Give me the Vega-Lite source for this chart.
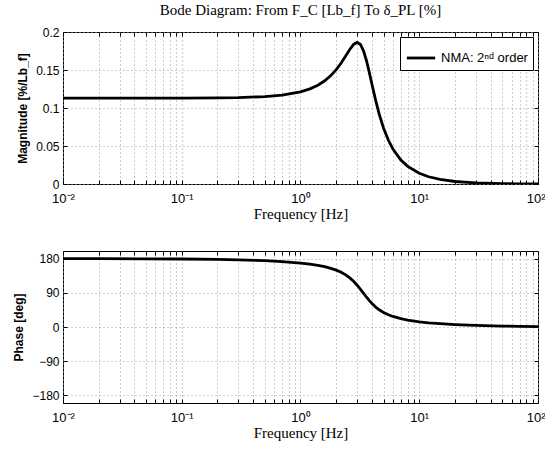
{
  "$schema": "https://vega.github.io/schema/vega-lite/v6.json",
  "padding": {"left": 12, "top": 2, "right": 0, "bottom": 5},
  "background": "white",
  "config": {
    "font": "Liberation Sans",
    "view": {"stroke": "black", "strokeWidth": 1},
    "axis": {
      "domain": false,
      "labelFont": "Liberation Sans",
      "labelFontSize": 12,
      "labelColor": "black",
      "tickColor": "black",
      "grid": true,
      "gridColor": "#9a9a9a",
      "gridDash": [1, 3],
      "gridWidth": 1,
      "tickSize": -4,
      "labelPadding": 8,
      "labelFlush": false
    },
    "axisX": {"titleFont": "Liberation Serif", "titleFontSize": 15, "titleFontWeight": "normal"},
    "axisY": {"titleFont": "Liberation Sans", "titleFontSize": 12, "titleFontWeight": "bold"},
    "concat": {"spacing": 28}
  },
  "datasets": {
    "bode": [
      {"f": 0.01, "mag": 0.113, "phase": 179.89, "series": "NMA: 2ⁿᵈ order"},
      {"f": 0.02, "mag": 0.113, "phase": 179.78, "series": "NMA: 2ⁿᵈ order"},
      {"f": 0.05, "mag": 0.11302, "phase": 179.46, "series": "NMA: 2ⁿᵈ order"},
      {"f": 0.1, "mag": 0.11308, "phase": 178.91, "series": "NMA: 2ⁿᵈ order"},
      {"f": 0.2, "mag": 0.11332, "phase": 177.82, "series": "NMA: 2ⁿᵈ order"},
      {"f": 0.3, "mag": 0.11372, "phase": 176.71, "series": "NMA: 2ⁿᵈ order"},
      {"f": 0.5, "mag": 0.115, "phase": 174.45, "series": "NMA: 2ⁿᵈ order"},
      {"f": 0.7, "mag": 0.11697, "phase": 172.09, "series": "NMA: 2ⁿᵈ order"},
      {"f": 1.0, "mag": 0.12131, "phase": 168.24, "series": "NMA: 2ⁿᵈ order"},
      {"f": 1.2, "mag": 0.12521, "phase": 165.37, "series": "NMA: 2ⁿᵈ order"},
      {"f": 1.4, "mag": 0.13002, "phase": 162.19, "series": "NMA: 2ⁿᵈ order"},
      {"f": 1.6, "mag": 0.13581, "phase": 158.58, "series": "NMA: 2ⁿᵈ order"},
      {"f": 1.8, "mag": 0.14263, "phase": 154.44, "series": "NMA: 2ⁿᵈ order"},
      {"f": 2.0, "mag": 0.15048, "phase": 149.61, "series": "NMA: 2ⁿᵈ order"},
      {"f": 2.2, "mag": 0.1592, "phase": 143.94, "series": "NMA: 2ⁿᵈ order"},
      {"f": 2.4, "mag": 0.16834, "phase": 137.23, "series": "NMA: 2ⁿᵈ order"},
      {"f": 2.6, "mag": 0.17699, "phase": 129.34, "series": "NMA: 2ⁿᵈ order"},
      {"f": 2.8, "mag": 0.18364, "phase": 120.22, "series": "NMA: 2ⁿᵈ order"},
      {"f": 3.0, "mag": 0.18636, "phase": 110.0, "series": "NMA: 2ⁿᵈ order"},
      {"f": 3.2, "mag": 0.18356, "phase": 99.19, "series": "NMA: 2ⁿᵈ order"},
      {"f": 3.4, "mag": 0.17494, "phase": 88.41, "series": "NMA: 2ⁿᵈ order"},
      {"f": 3.6, "mag": 0.16187, "phase": 78.33, "series": "NMA: 2ⁿᵈ order"},
      {"f": 3.8, "mag": 0.14655, "phase": 69.38, "series": "NMA: 2ⁿᵈ order"},
      {"f": 4.0, "mag": 0.13099, "phase": 61.72, "series": "NMA: 2ⁿᵈ order"},
      {"f": 4.3, "mag": 0.10969, "phase": 52.44, "series": "NMA: 2ⁿᵈ order"},
      {"f": 4.6, "mag": 0.09201, "phase": 45.34, "series": "NMA: 2ⁿᵈ order"},
      {"f": 5.0, "mag": 0.0738, "phase": 38.33, "series": "NMA: 2ⁿᵈ order"},
      {"f": 5.5, "mag": 0.05753, "phase": 32.12, "series": "NMA: 2ⁿᵈ order"},
      {"f": 6.0, "mag": 0.04611, "phase": 27.71, "series": "NMA: 2ⁿᵈ order"},
      {"f": 7.0, "mag": 0.03164, "phase": 21.85, "series": "NMA: 2ⁿᵈ order"},
      {"f": 8.0, "mag": 0.02317, "phase": 18.15, "series": "NMA: 2ⁿᵈ order"},
      {"f": 10, "mag": 0.01407, "phase": 13.68, "series": "NMA: 2ⁿᵈ order"},
      {"f": 12, "mag": 0.0095, "phase": 11.04, "series": "NMA: 2ⁿᵈ order"},
      {"f": 15, "mag": 0.00594, "phase": 8.61, "series": "NMA: 2ⁿᵈ order"},
      {"f": 20, "mag": 0.00328, "phase": 6.33, "series": "NMA: 2ⁿᵈ order"},
      {"f": 30, "mag": 0.00144, "phase": 4.16, "series": "NMA: 2ⁿᵈ order"},
      {"f": 50, "mag": 0.000515, "phase": 2.48, "series": "NMA: 2ⁿᵈ order"},
      {"f": 70, "mag": 0.000262, "phase": 1.77, "series": "NMA: 2ⁿᵈ order"},
      {"f": 100, "mag": 0.000128, "phase": 1.24, "series": "NMA: 2ⁿᵈ order"}
    ]
  },
  "vconcat": [
    {
      "title": {
        "text": "Bode Diagram: From F_C [Lb_f] To δ_PL [%]",
        "font": "Liberation Serif",
        "fontSize": 15,
        "fontWeight": "normal",
        "anchor": "middle",
        "frame": "group",
        "offset": 8
      },
      "width": 475,
      "height": 152,
      "data": {"name": "bode"},
      "resolve": {"axis": {"x": "independent", "y": "independent"}},
      "layer": [
        {
          "mark": {"type": "line", "strokeWidth": 2.8, "color": "black", "clip": true},
          "encoding": {
            "x": {
              "field": "f",
              "type": "quantitative",
              "scale": {"type": "log", "domain": [0.01, 100], "nice": false},
              "axis": {
                "title": "Frequency [Hz]",
                "titlePadding": 1,
                "labelPadding": 12,
                "values": [0.01, 0.02, 0.03, 0.04, 0.05, 0.06, 0.07, 0.08, 0.09, 0.1, 0.2, 0.3, 0.4, 0.5, 0.6, 0.7, 0.8, 0.9, 1, 2, 3, 4, 5, 6, 7, 8, 9, 10, 20, 30, 40, 50, 60, 70, 80, 90, 100],
                "labelExpr": "datum.value == 0.01 ? '10⁻²' : datum.value == 0.1 ? '10⁻¹' : datum.value == 1 ? '10⁰' : datum.value == 10 ? '10¹' : datum.value == 100 ? '10²' : ''",
                "labelFontSize": 13,
                "labelAlign": {"condition": {"test": "datum.value == 100", "value": "right"}, "value": "center"},
                "labelOffset": {"condition": {"test": "datum.value == 100", "value": 7}, "value": 0}
              }
            },
            "y": {
              "field": "mag",
              "type": "quantitative",
              "scale": {"domain": [0, 0.2], "nice": false},
              "axis": {
                "title": "Magnitude [%/Lb_f]",
                "values": [0, 0.05, 0.1, 0.15, 0.2],
                "format": ".2~f",
                "titlePadding": 6
              }
            },
            "color": {
              "field": "series",
              "type": "nominal",
              "scale": {"range": ["black"]},
              "legend": {
                "title": null,
                "orient": "top-right",
                "offset": 5,
                "strokeColor": "black",
                "fillColor": "white",
                "padding": 5,
                "symbolType": "stroke",
                "symbolSize": 800,
                "symbolStrokeWidth": 2.8,
                "labelFontSize": 13,
                "labelColor": "black"
              }
            }
          }
        },
        {
          "mark": {"type": "line", "opacity": 0},
          "encoding": {
            "x": {
              "field": "f",
              "type": "quantitative",
              "axis": {
                "orient": "top",
                "title": null,
                "labels": false,
                "grid": false,
                "values": [0.01, 0.02, 0.03, 0.04, 0.05, 0.06, 0.07, 0.08, 0.09, 0.1, 0.2, 0.3, 0.4, 0.5, 0.6, 0.7, 0.8, 0.9, 1, 2, 3, 4, 5, 6, 7, 8, 9, 10, 20, 30, 40, 50, 60, 70, 80, 90, 100]
              }
            },
            "y": {
              "field": "mag",
              "type": "quantitative",
              "axis": {
                "orient": "right",
                "title": null,
                "labels": false,
                "grid": false,
                "values": [0, 0.05, 0.1, 0.15, 0.2]
              }
            }
          }
        }
      ]
    },
    {
      "width": 475,
      "height": 152,
      "data": {"name": "bode"},
      "resolve": {"axis": {"x": "independent", "y": "independent"}},
      "layer": [
        {
          "mark": {"type": "line", "strokeWidth": 2.8, "color": "black", "clip": true},
          "encoding": {
            "x": {
              "field": "f",
              "type": "quantitative",
              "scale": {"type": "log", "domain": [0.01, 100], "nice": false},
              "axis": {
                "title": "Frequency [Hz]",
                "titlePadding": 1,
                "labelPadding": 12,
                "values": [0.01, 0.02, 0.03, 0.04, 0.05, 0.06, 0.07, 0.08, 0.09, 0.1, 0.2, 0.3, 0.4, 0.5, 0.6, 0.7, 0.8, 0.9, 1, 2, 3, 4, 5, 6, 7, 8, 9, 10, 20, 30, 40, 50, 60, 70, 80, 90, 100],
                "labelExpr": "datum.value == 0.01 ? '10⁻²' : datum.value == 0.1 ? '10⁻¹' : datum.value == 1 ? '10⁰' : datum.value == 10 ? '10¹' : datum.value == 100 ? '10²' : ''",
                "labelFontSize": 13,
                "labelAlign": {"condition": {"test": "datum.value == 100", "value": "right"}, "value": "center"},
                "labelOffset": {"condition": {"test": "datum.value == 100", "value": 7}, "value": 0}
              }
            },
            "y": {
              "field": "phase",
              "type": "quantitative",
              "scale": {"domain": [-200, 200], "nice": false},
              "axis": {
                "title": "Phase [deg]",
                "values": [-180, -90, 0, 90, 180],
                "titlePadding": 6
              }
            }
          }
        },
        {
          "mark": {"type": "line", "opacity": 0},
          "encoding": {
            "x": {
              "field": "f",
              "type": "quantitative",
              "axis": {
                "orient": "top",
                "title": null,
                "labels": false,
                "grid": false,
                "values": [0.01, 0.02, 0.03, 0.04, 0.05, 0.06, 0.07, 0.08, 0.09, 0.1, 0.2, 0.3, 0.4, 0.5, 0.6, 0.7, 0.8, 0.9, 1, 2, 3, 4, 5, 6, 7, 8, 9, 10, 20, 30, 40, 50, 60, 70, 80, 90, 100]
              }
            },
            "y": {
              "field": "phase",
              "type": "quantitative",
              "axis": {
                "orient": "right",
                "title": null,
                "labels": false,
                "grid": false,
                "values": [-180, -90, 0, 90, 180]
              }
            }
          }
        }
      ]
    }
  ]
}
